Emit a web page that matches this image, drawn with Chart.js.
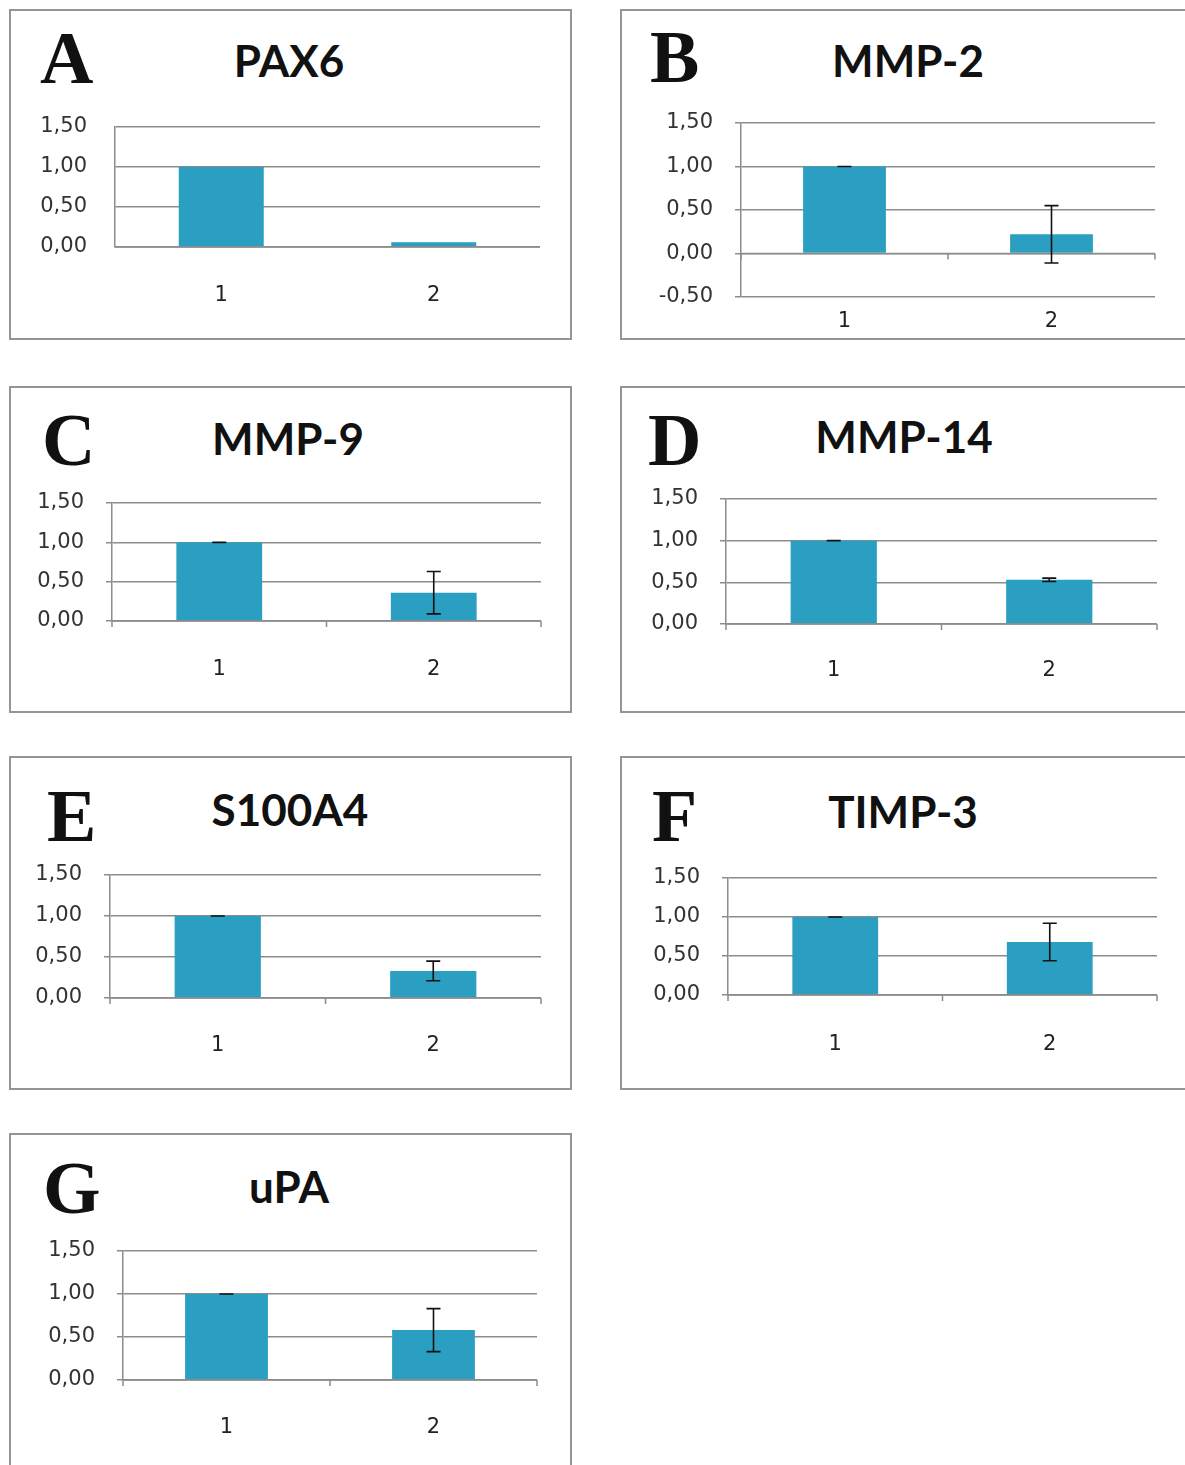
<!DOCTYPE html>
<html>
<head>
<meta charset="utf-8">
<script src="https://cdn.jsdelivr.net/npm/chart.js@4.4.1/dist/chart.umd.min.js"></script>
<style>
  body { margin: 0; background: #fff; width: 1185px; height: 1465px; overflow: hidden; position: relative; }
  .panel { position: absolute; border: 2px solid #959595; box-sizing: border-box; background: #fff; }
  .letter { position: absolute; font-family: "Liberation Serif", serif; font-weight: bold; font-size: 74px; line-height: 74px; color: #111; }
  .title { position: absolute; width: 400px; text-align: center; font-family: Lato, "Open Sans", sans-serif; font-weight: bold; font-size: 44px; line-height: 44px; color: #111; }
  canvas { position: absolute; }
</style>
</head>
<body>
<script>
// data (relative expression, group 1 vs group 2)
const categories = ['1', '2'];
const panelLetters = ['A', 'B', 'C', 'D', 'E', 'F', 'G'];
const geneNames = ['PAX6', 'MMP-2', 'MMP-9', 'MMP-14', 'S100A4', 'TIMP-3', 'uPA'];

const pax6Values = [1.00, 0.06];
const pax6Errors = null;
const mmp2Values = [1.00, 0.22];
const mmp2Errors = [0.0, 0.33];
const mmp9Values = [1.00, 0.36];
const mmp9Errors = [0.0, 0.27];
const mmp14Values = [1.00, 0.53];
const mmp14Errors = [0.0, 0.02];
const s100a4Values = [1.00, 0.33];
const s100a4Errors = [0.0, 0.12];
const timp3Values = [1.00, 0.68];
const timp3Errors = [0.0, 0.24];
const upaValues = [1.00, 0.58];
const upaErrors = [0.0, 0.25];

const yMins = [0, -0.5, 0, 0, 0, 0, 0];
const yMax = 1.5;
const yStep = 0.5;

const allValues = [pax6Values, mmp2Values, mmp9Values, mmp14Values, s100a4Values, timp3Values, upaValues];
const allErrors = [pax6Errors, mmp2Errors, mmp9Errors, mmp14Errors, s100a4Errors, timp3Errors, upaErrors];

// page layout: panel boxes, plot rectangles, title spots
const layout = [
  { box: [9, 9, 563, 331],    plot: [115, 127, 540, 247],   letter: [40, 83],   title: [289, 77],   labelPad: 36, ticks: false },
  { box: [620, 9, 580, 331],  plot: [741, 123, 1155, 297],  letter: [650, 82],  title: [908, 77],   labelPad: 12, ticks: true },
  { box: [9, 386, 563, 327],  plot: [112, 503, 541, 621],   letter: [42, 465],  title: [288, 455],  labelPad: 36, ticks: true },
  { box: [620, 386, 580, 327],plot: [726, 499, 1157, 624],  letter: [648, 465], title: [904, 453],  labelPad: 34, ticks: true },
  { box: [9, 756, 563, 334],  plot: [110, 875, 541, 998],   letter: [47, 841],  title: [290, 826],  labelPad: 35, ticks: true },
  { box: [620, 756, 580, 334],plot: [728, 878, 1157, 995],  letter: [652, 841], title: [903, 828],  labelPad: 37, ticks: true },
  { box: [9, 1133, 563, 345], plot: [123, 1251, 537, 1380], letter: [43, 1213], title: [289, 1203], labelPad: 35, ticks: true }
];

const barColor = '#2b9fc1';
const gridColor = '#8c8c8c';
const padL = 100, padT = 20, padR = 20, padB = 80;

// zero line with Excel-like tick marks between the categories
const zeroAxisPlugin = {
  id: 'zeroAxis',
  afterDatasetsDraw(chart, args, opts) {
    const ctx = chart.ctx;
    const area = chart.chartArea;
    const y0 = chart.scales.y.getPixelForValue(0);
    ctx.save();
    ctx.strokeStyle = gridColor;
    ctx.lineWidth = 1.5;
    ctx.beginPath();
    ctx.moveTo(area.left, y0);
    ctx.lineTo(area.right, y0);
    if (opts.ticks) {
      const mid = (area.left + area.right) / 2;
      [area.left, mid, area.right].forEach(x => {
        ctx.moveTo(x, y0);
        ctx.lineTo(x, y0 + 6);
      });
    }
    ctx.stroke();
    ctx.restore();
  }
};

// error bars
const errorBarPlugin = {
  id: 'errorBars',
  afterDatasetsDraw(chart, args, opts) {
    if (!opts.errors) return;
    const ctx = chart.ctx;
    const yScale = chart.scales.y;
    const meta = chart.getDatasetMeta(0);
    const vals = chart.data.datasets[0].data;
    ctx.save();
    ctx.strokeStyle = '#111';
    ctx.lineWidth = 1.6;
    meta.data.forEach((bar, i) => {
      const e = opts.errors[i];
      const yHi = yScale.getPixelForValue(vals[i] + e);
      const yLo = yScale.getPixelForValue(vals[i] - e);
      ctx.beginPath();
      ctx.moveTo(bar.x, yHi);
      ctx.lineTo(bar.x, yLo);
      ctx.moveTo(bar.x - 7, yHi);
      ctx.lineTo(bar.x + 7, yHi);
      ctx.moveTo(bar.x - 7, yLo);
      ctx.lineTo(bar.x + 7, yLo);
      ctx.stroke();
    });
    ctx.restore();
  }
};

function makePanel(i) {
  const L = layout[i];
  const panel = document.createElement('div');
  panel.className = 'panel';
  panel.style.left = L.box[0] + 'px';
  panel.style.top = L.box[1] + 'px';
  panel.style.width = L.box[2] + 'px';
  panel.style.height = L.box[3] + 'px';
  document.body.appendChild(panel);

  const letter = document.createElement('div');
  letter.className = 'letter';
  letter.textContent = panelLetters[i];
  letter.style.left = L.letter[0] + 'px';
  letter.style.top = (L.letter[1] - 0.8375 * 74) + 'px';
  document.body.appendChild(letter);

  const title = document.createElement('div');
  title.className = 'title';
  title.textContent = geneNames[i];
  title.style.left = (L.title[0] - 200) + 'px';
  title.style.top = (L.title[1] - 0.887 * 44) + 'px';
  document.body.appendChild(title);

  const [x1, y1, x2, y2] = L.plot;
  const canvas = document.createElement('canvas');
  canvas.width = (x2 - x1) + padL + padR;
  canvas.height = (y2 - y1) + padT + padB;
  canvas.style.left = (x1 - padL) + 'px';
  canvas.style.top = (y1 - padT) + 'px';
  document.body.appendChild(canvas);

  new Chart(canvas.getContext('2d'), {
    type: 'bar',
    data: {
      labels: categories,
      datasets: [{
        data: allValues[i],
        backgroundColor: barColor,
        borderWidth: 0,
        categoryPercentage: 1.0,
        barPercentage: 0.4
      }]
    },
    options: {
      responsive: false,
      devicePixelRatio: 1,
      animation: false,
      layout: { padding: 0 },
      plugins: {
        legend: { display: false },
        tooltip: { enabled: false },
        title: { display: false },
        zeroAxis: { ticks: L.ticks },
        errorBars: { errors: allErrors[i] }
      },
      scales: {
        x: {
          type: 'category',
          offset: true,
          grid: { display: false, drawTicks: false },
          border: { display: false },
          ticks: {
            padding: L.labelPad,
            color: '#222',
            font: { family: 'DejaVu Sans', size: 21 }
          },
          afterFit: s => { s.height = padB; s.paddingLeft = 0; s.paddingRight = padR; }
        },
        y: {
          min: yMins[i],
          max: yMax,
          grid: { color: gridColor, lineWidth: 1.5, tickLength: 6, drawTicks: L.ticks },
          border: { display: true, color: gridColor, width: 1.5 },
          ticks: {
            stepSize: yStep,
            padding: L.ticks ? 22 : 28,
            color: '#333',
            font: { family: 'DejaVu Sans', size: 21 },
            callback: v => v.toFixed(2).replace('.', ',')
          },
          afterFit: s => { s.width = padL; s.paddingTop = padT; s.paddingBottom = 0; }
        }
      }
    },
    plugins: [zeroAxisPlugin, errorBarPlugin]
  });
}

for (let i = 0; i < geneNames.length; i++) {
  makePanel(i);
}
</script>
</body>
</html>
